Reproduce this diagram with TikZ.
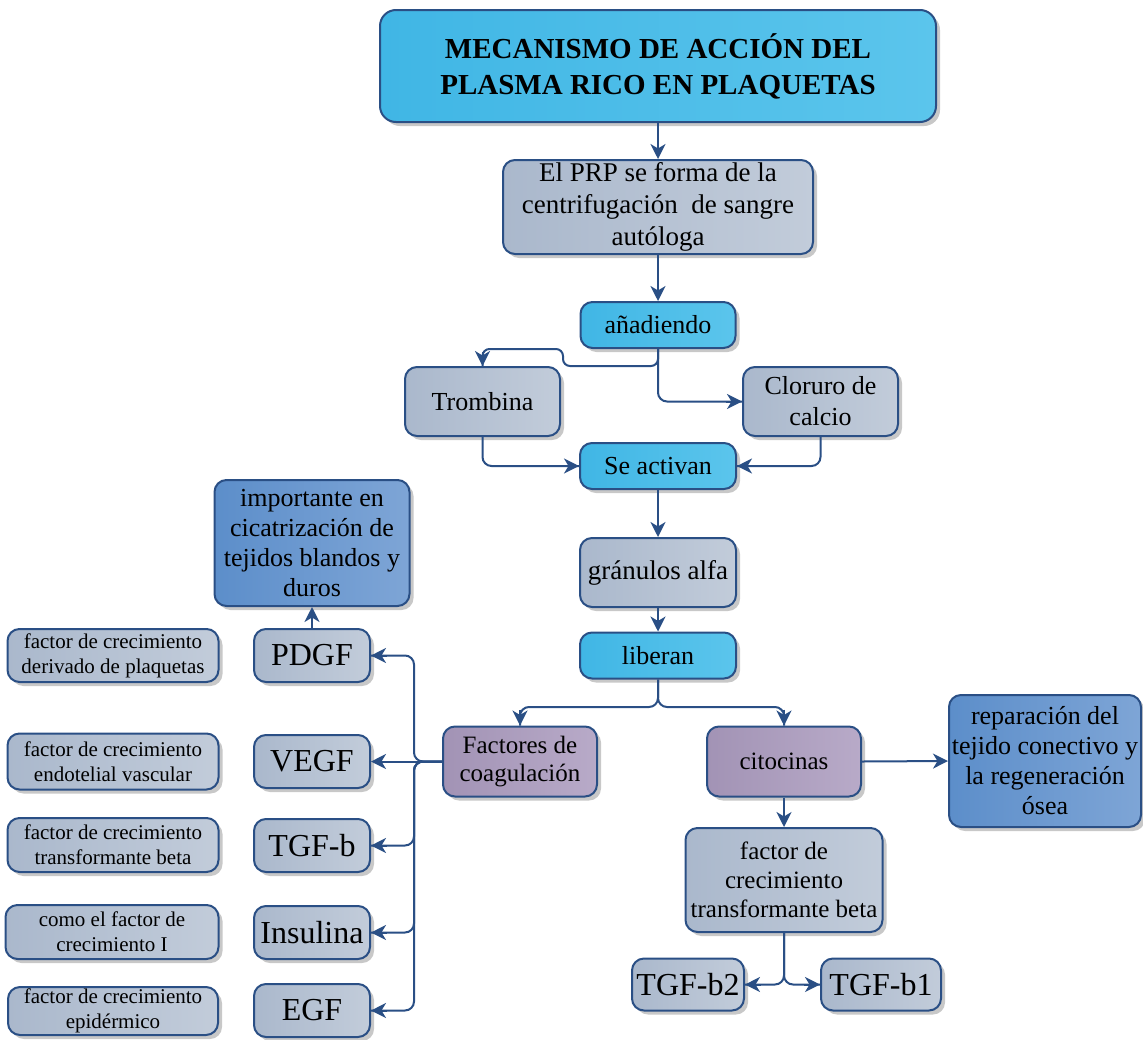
\documentclass[tikz,border=0pt]{standalone}
\usepackage{fontspec}
\setmainfont{Liberation Serif}
\usetikzlibrary{arrows.meta,shadows,calc}

\definecolor{edgeblue}{HTML}{2A4F85}
\definecolor{cyanA}{HTML}{40B6E5}
\definecolor{cyanB}{HTML}{5BC5EC}
\definecolor{greyA}{HTML}{AAB8CC}
\definecolor{greyB}{HTML}{C2CCDA}
\definecolor{lilacA}{HTML}{A293B5}
\definecolor{lilacB}{HTML}{B8AAC8}
\definecolor{blueA}{HTML}{5C8ECA}
\definecolor{blueB}{HTML}{7EA5D6}
\definecolor{shade}{HTML}{C8C8C8}

\newcommand{\bodyfont}{\fontsize{26}{30}\selectfont}
\newcommand{\bigfont}{\fontsize{32}{36}\selectfont}
\newcommand{\smallfont}{\fontsize{21}{25}\selectfont}

\begin{document}
\begin{tikzpicture}[x=1pt,y=-1pt,
  box/.style={draw=edgeblue, line width=2pt, rounded corners=12pt,
    inner sep=0pt, align=center, font=\bodyfont,
    drop shadow={shadow xshift=4pt, shadow yshift=-4pt, fill=shade, opacity=1}},
  cyanbox/.style={box, left color=cyanA, right color=cyanB},
  greybox/.style={box, left color=greyA, right color=greyB},
  lilacbox/.style={box, left color=lilacA, right color=lilacB},
  bluebox/.style={box, left color=blueA, right color=blueB},
  sz/.style 2 args={minimum width=#1pt, minimum height=#2pt},
  % bent runs are drawn round-cornered, their heads added as a short sharp stroke
  link/.style={draw=edgeblue, line width=2pt, rounded corners=9pt},
  conn/.style={draw=edgeblue, line width=2pt, sharp corners,
    -{Stealth[length=15pt,width=15pt,inset=4.5pt]}}
]
\useasboundingbox (0,0) rectangle (1143,1039);

% central column
\node[cyanbox, sz={556}{112}, rounded corners=16pt,
  font=\bfseries\fontsize{29}{36}\selectfont] (title) at (658,66)
  {MECANISMO DE ACCIÓN DEL\\PLASMA RICO EN PLAQUETAS};
\node[greybox, sz={310}{94}, font=\fontsize{27}{32}\selectfont] (prp) at (658,207)
  {\raisebox{-3pt}{\parbox{300pt}{\centering El PRP se forma de la\\centrifugación\hspace{0.25em} de sangre\\autóloga}}};
\node[cyanbox, sz={155}{46}] (anad) at (658,325) {añadiendo};
\node[greybox, sz={155}{69}] (trom) at (482.5,401.5) {Trombina};
\node[greybox, sz={155}{69}, font=\fontsize{26}{31}\selectfont] (clor) at (820.5,401.5) {Cloruro de\\calcio};
\node[cyanbox, sz={156}{46}] (act) at (658,466) {Se activan};
\node[greybox, sz={156}{69}, font=\fontsize{27}{30}\selectfont] (gran) at (658,572.5) {gránulos alfa};
\node[cyanbox, sz={156}{46}] (lib) at (658,655.5) {liberan};

% two families of released factors
\node[lilacbox, sz={154}{70}, font=\fontsize{25}{28}\selectfont] (fact) at (520,761.5) {Factores de\\coagulación};
\node[lilacbox, sz={154}{70}, font=\fontsize{25}{28}\selectfont] (cito) at (784,761.5) {citocinas};
\node[bluebox, sz={192}{132}] (rep) at (1045,761)
  {reparación del\\tejido conectivo y\\la regeneración\\ósea};
\node[greybox, sz={197}{104}, font=\fontsize{25}{29}\selectfont] (tgfbox) at (784,880)
  {factor de\\crecimiento\\transformante beta};
\node[greybox, sz={112}{52}, font=\bigfont] (tb2) at (688,984.5) {TGF-b2};
\node[greybox, sz={120}{52}, font=\bigfont] (tb1) at (881,984.5) {TGF-b1};

% growth factors on the left
\node[bluebox, sz={195}{126}] (imp) at (312,543)
  {importante en\\cicatrización de\\tejidos blandos y\\duros};
\node[greybox, sz={116}{53}, font=\bigfont] (pdgf) at (312,655.5) {PDGF};
\node[greybox, sz={116}{53}, font=\bigfont] (vegf) at (312,761.5) {VEGF};
\node[greybox, sz={116}{53}, font=\bigfont] (tgfb) at (312,845.5) {TGF-b};
\node[greybox, sz={116}{53}, font=\bigfont] (ins) at (312,932.5) {Insulina};
\node[greybox, sz={116}{53}, font=\bigfont] (egf) at (312,1010.5) {EGF};

\node[greybox, sz={211}{53}, font=\smallfont] (d1) at (113,655.5)
  {factor de crecimiento\\derivado de plaquetas};
\node[greybox, sz={211}{56}, font=\smallfont] (d2) at (113,761.5)
  {factor de crecimiento\\endotelial vascular};
\node[greybox, sz={211}{54}, font=\smallfont] (d3) at (113,845)
  {factor de crecimiento\\transformante beta};
\node[greybox, sz={213}{54}, font=\smallfont] (d4) at (112,932)
  {como el factor de\\crecimiento I};
\node[greybox, sz={210}{48}, font=\smallfont] (d5) at (113,1011)
  {factor de crecimiento\\epidérmico};

% straight connectors
\draw[conn] (title.south) -- (prp.north);
\draw[conn] (prp.south) -- (anad.north);
\draw[conn] (act.south) -- (gran.north);
\draw[conn] (gran.south) -- (lib.north);
\draw[conn] (fact.west) -- (vegf.east);
\draw[conn] (pdgf.north) -- (imp.south);
\draw[conn] (cito.east) -- (rep.west);
\draw[conn] (cito.south) -- (tgfbox.north);

% añadiendo -> Trombina / Cloruro, both -> Se activan
\draw[link, rounded corners=7pt] (anad.south) -- (anad.south |- 0,366) -- (563,366)
  -- (563,349) -- (trom.north |- 0,349) -- (trom.north);
\draw[conn] ($(trom.north)+(0,-14)$) -- (trom.north);
\draw[link] (anad.south) |- (clor.west);
\draw[conn] ($(clor.west)+(-16,0)$) -- (clor.west);
\draw[link] (trom.south) |- (act.west);
\draw[conn] ($(act.west)+(-16,0)$) -- (act.west);
\draw[link] (clor.south) |- (act.east);
\draw[conn] ($(act.east)+(16,0)$) -- (act.east);

% liberan splits in two
\coordinate (split) at (658,707);
\draw[link] (lib.south) -- (split) -| (fact.north);
\draw[conn] ($(fact.north)+(0,-16)$) -- (fact.north);
\draw[link] (lib.south) -- (split) -| (cito.north);
\draw[conn] ($(cito.north)+(0,-16)$) -- (cito.north);

% coagulation factors bus
\coordinate (bus) at (414,761.5);
\foreach \t in {pdgf,tgfb,ins,egf}{
  \draw[link] (fact.west) -| (bus |- \t.east) -- (\t.east);
  \draw[conn] ($(\t.east)+(16,0)$) -- (\t.east);
}

% transforming growth factor isoforms
\draw[link] (tgfbox.south) |- (tb2.east);
\draw[conn] ($(tb2.east)+(16,0)$) -- (tb2.east);
\draw[link] (tgfbox.south) |- (tb1.west);
\draw[conn] ($(tb1.west)+(-16,0)$) -- (tb1.west);
\end{tikzpicture}
\end{document}
